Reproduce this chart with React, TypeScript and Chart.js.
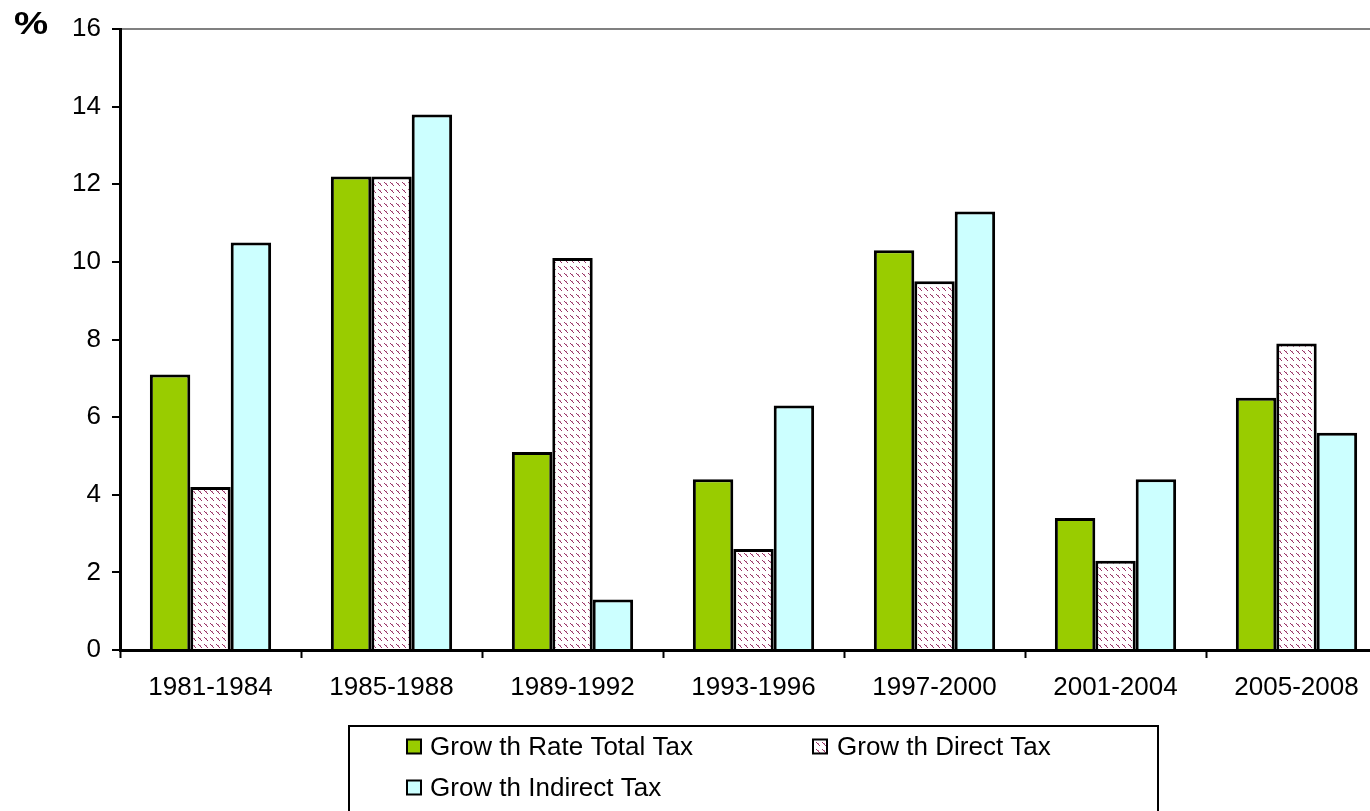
import React, { useEffect, useRef } from "react";
import { Chart, registerables } from "chart.js";

Chart.register(...registerables);

const categories = ["1981-1984", "1985-1988", "1989-1992", "1993-1996", "1997-2000", "2001-2004", "2005-2008"];
const totalTax = [7.1, 12.2, 5.1, 4.4, 10.3, 3.4, 6.5];
const directTax = [4.2, 12.2, 10.1, 2.6, 9.5, 2.3, 7.9];
const indirectTax = [10.5, 13.8, 1.3, 6.3, 11.3, 4.4, 5.6];
const seriesLabels = ["Grow th Rate Total Tax", "Grow th Direct Tax", "Grow th Indirect Tax"];
const yTicks = [0, 2, 4, 6, 8, 10, 12, 14, 16];

const FONT = "'Liberation Sans', Arial, sans-serif";

function makeHatch(): CanvasPattern | string {
  const c = document.createElement("canvas");
  c.width = 6;
  c.height = 7;
  const g = c.getContext("2d");
  if (!g) return "#fff";
  g.fillStyle = "#ffffff";
  g.fillRect(0, 0, 6, 7);
  g.fillStyle = "#993366";
  const pts = [[0, 0], [1, 1], [2, 2], [3, 3]];
  for (const [x, y] of pts) g.fillRect(x, y, 1, 1);
  g.fillStyle = "#c98aa8";
  g.fillRect(2, 1, 1, 1);
  return g.createPattern(c, "repeat") || "#fff";
}

const overlayPlugin = {
  id: "overlay",
  afterDraw(chart: any) {
    const ctx = chart.ctx;
    ctx.save();
    // % label
    ctx.save();
    ctx.fillStyle = "#000";
    ctx.font = `bold 32px ${FONT}`;
    ctx.textAlign = "left";
    ctx.textBaseline = "alphabetic";
    ctx.translate(14, 34);
    ctx.scale(1.2, 1);
    ctx.fillText("%", 0, 0);
    ctx.restore();
    // legend box
    ctx.strokeStyle = "#000";
    ctx.lineWidth = 2;
    ctx.strokeRect(349, 726, 809, 110);
    const positions = [
      [407, 746.5, 430],
      [813, 746.5, 837],
      [407, 787.5, 430],
    ];
    ctx.font = `26px ${FONT}`;
    chart.data.datasets.forEach((ds: any, i: number) => {
      const [x, y, tx] = positions[i];
      ctx.fillStyle = ds.backgroundColor;
      ctx.fillRect(x, y - 7, 14, 14);
      ctx.lineWidth = 2;
      ctx.strokeStyle = "#000";
      ctx.strokeRect(x, y - 7, 14, 14);
      ctx.fillStyle = "#000";
      ctx.textAlign = "left";
      ctx.textBaseline = "middle";
      ctx.fillText(ds.label, tx, y + 1);
    });
    ctx.restore();
  },
};

export default function App() {
  const ref = useRef<HTMLCanvasElement>(null);
  useEffect(() => {
    const canvas = ref.current;
    if (!canvas) return;
    const hatch = makeHatch();
    const chart = new Chart(canvas, {
      type: "bar",
      data: {
        labels: categories,
        datasets: [
          { label: seriesLabels[0], data: totalTax, backgroundColor: "#99CC00", borderColor: "#000", borderWidth: 3 },
          { label: seriesLabels[1], data: directTax, backgroundColor: hatch as any, borderColor: "#000", borderWidth: 3 },
          { label: seriesLabels[2], data: indirectTax, backgroundColor: "#CCFFFF", borderColor: "#000", borderWidth: 3 },
        ],
      },
      options: {
        responsive: false,
        animation: false,
        devicePixelRatio: 1,
        layout: { padding: { top: 29, right: 13, left: 0, bottom: 0 } },
        datasets: { bar: { categoryPercentage: 0.67, barPercentage: 1.0 } },
        plugins: { legend: { display: false }, tooltip: { enabled: false } },
        scales: {
          x: {
            grid: { display: true, drawOnChartArea: false, offset: true, tickLength: 8, tickColor: "#000", tickWidth: 2 },
            border: { color: "#000", width: 3 },
            ticks: { color: "#000", padding: 14, font: { family: FONT, size: 26 }, maxRotation: 0, autoSkip: false },
            afterFit: (s: any) => { s.height = 161; },
          },
          y: {
            min: 0,
            max: 16,
            afterBuildTicks: (s: any) => { s.ticks = yTicks.map((v) => ({ value: v })); },
            grid: {
              color: (c: any) => (c.tick && c.tick.value === 16 ? "#808080" : "transparent"),
              lineWidth: 2,
              tickLength: 8,
              tickColor: "#000",
              tickWidth: 2,
            },
            border: { color: "#000", width: 3 },
            ticks: { color: "#000", padding: 11, font: { family: FONT, size: 26 } },
            afterFit: (s: any) => { s.width = 120; },
          },
        },
      },
      plugins: [overlayPlugin],
    });
    return () => chart.destroy();
  }, []);
  return (
    <div style={{ position: "fixed", left: 0, top: 0, width: 1370, height: 811, overflow: "hidden", background: "#fff" }}>
      <canvas ref={ref} width={1400} height={811} style={{ width: 1400, height: 811, display: "block" }} />
    </div>
  );
}
